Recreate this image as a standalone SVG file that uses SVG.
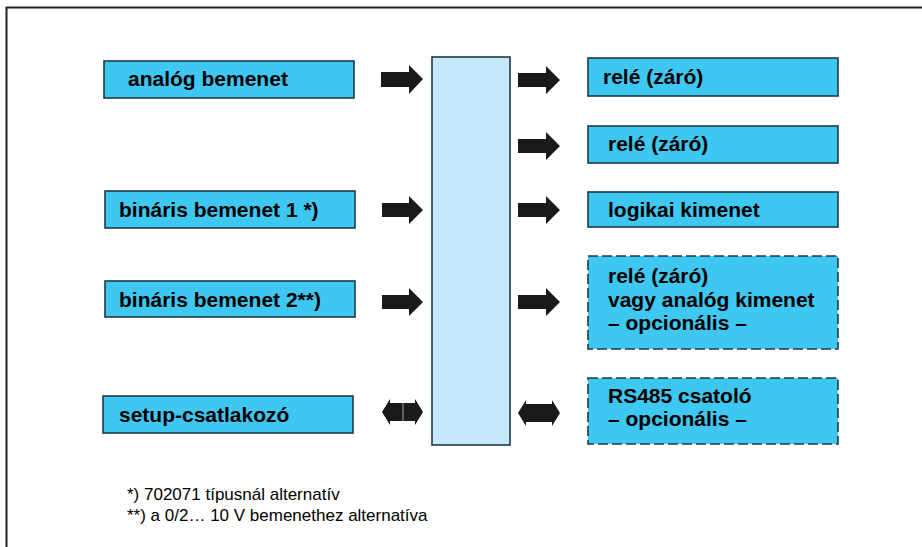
<svg xmlns="http://www.w3.org/2000/svg" width="922" height="547" viewBox="0 0 922 547">
<style>
.box{fill:#3EC7F0;stroke:#1E3A4A;stroke-width:1.6}
.dash{stroke-dasharray:10 4}
.core{fill:#C6E8FA;stroke:#1E3A4A;stroke-width:1.6}
.t{font-family:"Liberation Sans",Arial,sans-serif;font-weight:bold;font-size:21px;fill:#000}
.fn{font-family:"Liberation Sans",Arial,sans-serif;font-size:17px;fill:#000}
.arr{fill:#1A1A1A}
</style>
<rect width="922" height="547" fill="#fff"/>
<path d="M6.5 547 V7.5 H922" fill="none" stroke="#222" stroke-width="2"/>

<g id="core"><rect class="core" x="432" y="57" width="78" height="388"/></g>

<g id="analog-in"><rect class="box" x="104" y="61" width="250" height="37"/><text class="t" x="128" y="86">analóg bemenet</text></g>
<g id="bin-in-1"><rect class="box" x="105" y="191" width="250" height="37"/><text class="t" x="119" y="217">bináris bemenet 1 *)</text></g>
<g id="bin-in-2"><rect class="box" x="105" y="281" width="250" height="36"/><text class="t" x="119" y="307">bináris bemenet 2**)</text></g>
<g id="setup"><rect class="box" x="103" y="396" width="250" height="37"/><text class="t" x="119" y="422">setup-csatlakozó</text></g>

<g id="rele-1"><rect class="box" x="588" y="58" width="250" height="38"/><text class="t" x="603" y="84">relé (záró)</text></g>
<g id="rele-2"><rect class="box" x="588" y="126" width="250" height="37"/><text class="t" x="608" y="151">relé (záró)</text></g>
<g id="logic-out"><rect class="box" x="588" y="192" width="250" height="35"/><text class="t" x="608" y="217">logikai kimenet</text></g>
<g id="opt-out"><rect class="box dash" x="588" y="256" width="250" height="93"/><text class="t" x="608" y="283">relé (záró)</text><text class="t" x="608" y="307">vagy analóg kimenet</text><text class="t" x="608" y="330">– opcionális –</text></g>
<g id="rs485"><rect class="box dash" x="588" y="378" width="250" height="66"/><text class="t" x="608" y="403">RS485 csatoló</text><text class="t" x="608" y="426">– opcionális –</text></g>

<g id="connectors">
<polygon class="arr" points="381,72 409,72 409,65 423,79 409,94 409,87 381,87"/>
<polygon class="arr" points="382,203 409,203 409,196 423,210 409,224 409,217 382,217"/>
<polygon class="arr" points="382,295 409,295 409,288 423,302 409,316 409,309 382,309"/>
<polygon class="arr" points="382,412 390,399 390,403 415,403 415,399 423,412 415,425 415,421 390,421 390,425"/>
<line x1="403" y1="403" x2="403" y2="421" stroke="#c8c8c8" stroke-width="0.8"/>
<polygon class="arr" points="518,73 546,73 546,66 560,80 546,94 546,87 518,87"/>
<polygon class="arr" points="518,139 546,139 546,132 560,146 546,160 546,153 518,153"/>
<polygon class="arr" points="518,203 546,203 546,196 560,210 546,224 546,217 518,217"/>
<polygon class="arr" points="518,295 546,295 546,288 560,302 546,316 546,309 518,309"/>
<polygon class="arr" points="518,413 526,400 526,404 552,404 552,400 560,413 552,426 552,422 526,422 526,426"/>
</g>

<text class="fn" x="127" y="500">*) 702071 típusnál alternatív</text>
<text class="fn" x="127" y="521">**) a 0/2… 10 V bemenethez alternatíva</text>
</svg>
